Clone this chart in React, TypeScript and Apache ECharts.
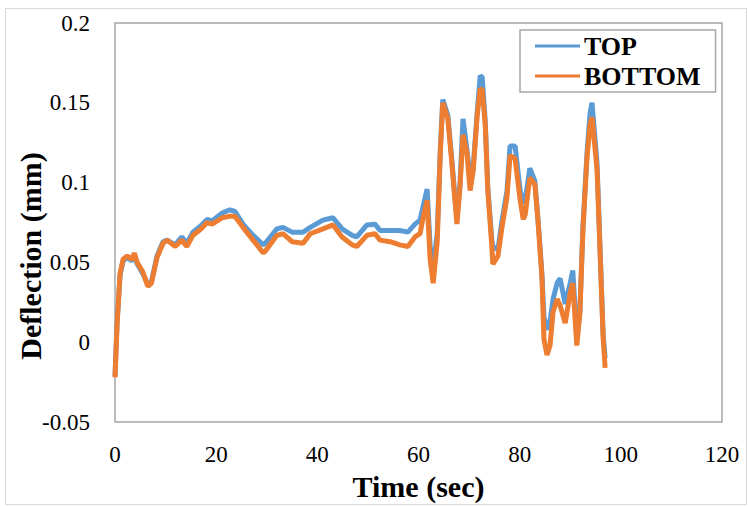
import React, { useEffect, useRef } from "react";
import * as echarts from "echarts";

const timeSec = [
  0, 0.4, 1.0, 1.6, 2.4, 3.4, 3.8, 4.4, 5.5, 6.5, 7.2, 8.3, 9.5, 10.3, 11.9, 13.2, 14.2, 15.4, 17.0, 18.2,
  19.2, 21.2, 22.7, 23.7, 25.3, 27.3, 29.3, 29.7, 32.0, 33.2, 35.0, 37.2, 38.6, 41.1, 43.1, 44.9, 46.9, 47.8,
  49.8, 51.4, 52.4, 54.4, 56.3, 57.9, 59.3, 60.3, 60.9, 61.7, 62.3, 62.9, 63.7, 64.3, 64.8, 65.8, 66.6, 67.2,
  67.6, 68.2, 68.8, 69.6, 70.2, 70.8, 71.6, 72.2, 72.6, 73.2, 73.7, 74.5, 74.7, 75.7, 76.5, 77.5, 78.1, 79.1,
  80.1, 80.7, 81.1, 82.0, 83.0, 83.6, 84.4, 84.8, 85.4, 86.0, 86.6, 87.4, 88.0, 89.0, 90.0, 90.5, 91.3, 91.9,
  92.5, 93.3, 93.9, 94.3, 95.3, 95.9, 96.5, 96.9,
];

const topDeflection = [
  -0.021, 0.012, 0.042, 0.051, 0.053, 0.051, 0.054, 0.049, 0.043, 0.036, 0.038, 0.054, 0.063, 0.064, 0.061,
  0.066, 0.062, 0.069, 0.073, 0.077, 0.076, 0.081, 0.083, 0.082, 0.074, 0.067, 0.061, 0.062, 0.071, 0.072,
  0.069, 0.069, 0.072, 0.0765, 0.078, 0.071, 0.067, 0.066, 0.0735, 0.074, 0.07, 0.07, 0.07, 0.069, 0.074,
  0.0765, 0.085, 0.096, 0.06, 0.048, 0.068, 0.12, 0.152, 0.142, 0.114, 0.091, 0.078, 0.099, 0.14, 0.12, 0.103,
  0.109, 0.144, 0.167, 0.166, 0.138, 0.097, 0.064, 0.06, 0.058, 0.076, 0.095, 0.123, 0.123, 0.095, 0.087,
  0.089, 0.109, 0.101, 0.078, 0.043, 0.016, 0.008, 0.013, 0.027, 0.037, 0.04, 0.024, 0.037, 0.045, 0.003,
  0.019, 0.072, 0.118, 0.143, 0.15, 0.112, 0.058, 0.005, -0.01,
];

const bottomDeflection = [
  -0.022, 0.01, 0.043, 0.052, 0.054, 0.052, 0.056, 0.05, 0.044, 0.035, 0.037, 0.053, 0.062, 0.064, 0.06,
  0.064, 0.06, 0.067, 0.071, 0.075, 0.074, 0.078, 0.079, 0.079, 0.072, 0.064, 0.056, 0.057, 0.067, 0.068,
  0.063, 0.062, 0.068, 0.071, 0.0735, 0.066, 0.061, 0.06, 0.067, 0.068, 0.064, 0.063, 0.061, 0.06, 0.066,
  0.068, 0.078, 0.089, 0.052, 0.037, 0.063, 0.118, 0.15, 0.14, 0.112, 0.089, 0.074, 0.097, 0.13, 0.118, 0.095,
  0.107, 0.142, 0.159, 0.158, 0.136, 0.095, 0.06, 0.049, 0.054, 0.072, 0.091, 0.117, 0.115, 0.089, 0.077,
  0.08, 0.103, 0.099, 0.077, 0.041, 0.002, -0.008, -0.002, 0.019, 0.027, 0.023, 0.012, 0.031, 0.037, -0.002,
  0.018, 0.07, 0.115, 0.136, 0.141, 0.108, 0.056, 0.003, -0.016,
];

const seriesNames = ["TOP", "BOTTOM"];
const xTicks = { min: 0, max: 120, interval: 20 };
const yTicks = { min: -0.05, max: 0.2, interval: 0.05 };

const FONT = '"Liberation Serif", "Times New Roman", serif';

export default function App() {
  const ref = useRef<HTMLDivElement>(null);

  useEffect(() => {
    if (!ref.current) return;
    const chart = echarts.init(ref.current, undefined, { renderer: "svg" });
    const topData = timeSec.map((t, i) => [t, topDeflection[i]]);
    const bottomData = timeSec.map((t, i) => [t, bottomDeflection[i]]);
    chart.setOption({
      animation: false,
      backgroundColor: "#ffffff",
      grid: {
        left: 115,
        right: 26,
        top: 23,
        bottom: 78,
        show: true,
        borderColor: "#a6a6a6",
        borderWidth: 1.5,
        backgroundColor: "transparent",
      },
      legend: {
        data: seriesNames,
        orient: "vertical",
        left: 520,
        top: 30,
        padding: [3, 15, 3, 15],
        itemGap: 4,
        itemWidth: 45,
        itemHeight: 3,
        icon: "rect",
        borderColor: "#a6a6a6",
        borderWidth: 1.5,
        backgroundColor: "#ffffff",
        textStyle: { fontFamily: FONT, fontWeight: "bold", fontSize: 26, color: "#000", padding: [0, 0, 0, -1] },
      },
      xAxis: {
        type: "value",
        min: xTicks.min,
        max: xTicks.max,
        interval: xTicks.interval,
        name: "Time (sec)",
        nameLocation: "middle",
        nameGap: 46,
        nameTextStyle: { fontFamily: FONT, fontWeight: "bold", fontSize: 30, color: "#000" },
        axisLine: { show: false },
        axisTick: { show: false },
        splitLine: { show: false },
        axisLabel: { fontFamily: FONT, fontSize: 23, color: "#000", margin: 21 },
      },
      yAxis: {
        type: "value",
        min: yTicks.min,
        max: yTicks.max,
        interval: yTicks.interval,
        axisLine: { show: false },
        axisTick: { show: false },
        splitLine: { show: false },
        axisLabel: {
          fontFamily: FONT,
          fontSize: 23,
          color: "#000",
          margin: 25,
          formatter: (v: number) => String(+v.toFixed(2)),
        },
      },
      graphic: [
        {
          type: "rect",
          z: -10,
          silent: true,
          shape: { x: 5.5, y: 8.5, width: 741, height: 496 },
          style: { fill: "none", stroke: "#d9d9d9", lineWidth: 1 },
        },
        {
          type: "text",
          x: 30,
          y: 256,
          rotation: Math.PI / 2,
          style: {
            text: "Deflection (mm)",
            fontFamily: FONT,
            fontWeight: "bold",
            fontSize: 30,
            fill: "#000",
            align: "center",
            verticalAlign: "middle",
          },
        },
      ],
      series: [
        {
          name: seriesNames[0],
          type: "line",
          data: topData,
          showSymbol: false,
          symbol: "none",
          lineStyle: { color: "#5B9BD5", width: 5 },
          itemStyle: { color: "#5B9BD5" },
        },
        {
          name: seriesNames[1],
          type: "line",
          data: bottomData,
          showSymbol: false,
          symbol: "none",
          lineStyle: { color: "#ED7D31", width: 5 },
          itemStyle: { color: "#ED7D31" },
        },
      ],
    });
    return () => chart.dispose();
  }, []);

  return <div ref={ref} style={{ position: "fixed", left: 0, top: 0, width: 748, height: 506 }} />;
}
